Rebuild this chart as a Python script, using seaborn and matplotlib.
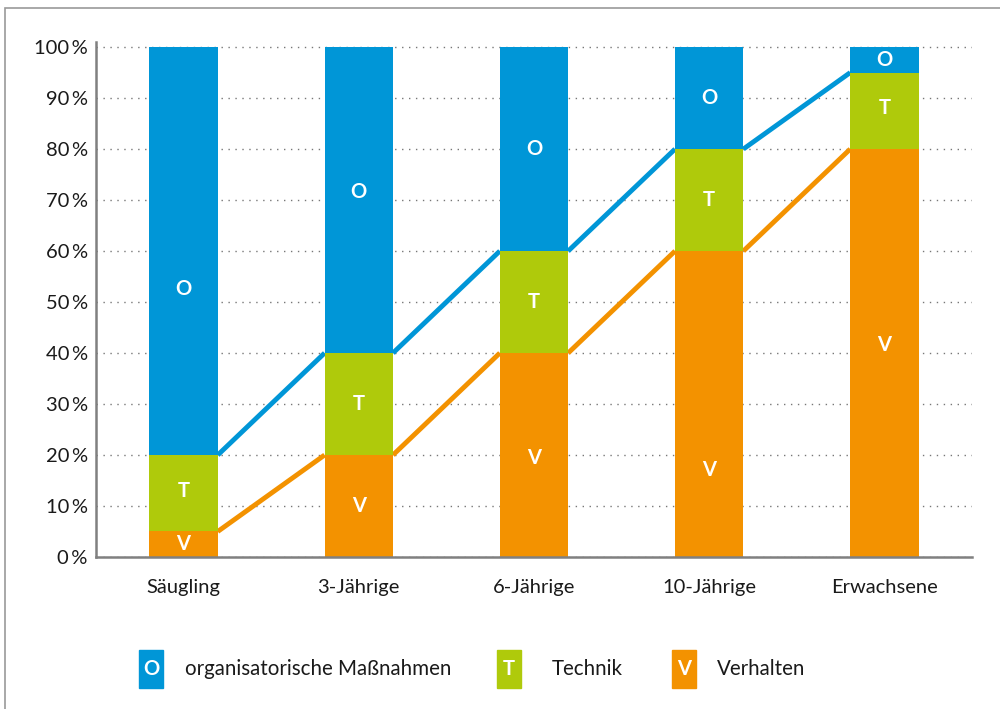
import matplotlib
matplotlib.use("Agg")
import matplotlib.pyplot as plt
import seaborn as sns
import numpy as np
import pandas as pd
from matplotlib.patches import Rectangle

categories = ["Säugling", "3-Jährige", "6-Jährige", "10-Jährige", "Erwachsene"]
verhalten = [5, 20, 40, 60, 80]
technik = [15, 20, 20, 20, 15]
organisation = [80, 60, 40, 20, 5]
y_ticks = [0, 10, 20, 30, 40, 50, 60, 70, 80, 90, 100]
y_tick_labels = [f"{v}\u2009%" for v in y_ticks]
legend_keys = ["O", "T", "V"]
legend_labels = ["organisatorische Maßnahmen", "Technik", "Verhalten"]

# layout: vertical placement of the in-bar letters (as in the original layout)
label_y_V = [2.5, 10, 19.5, 17, 41.5]
label_y_T = [13, 30, 50, 70, 88]
label_y_O = [52.5, 71.5, 80, 90, 97.5]

C_O = "#0096D7"
C_T = "#AFCA0B"
C_V = "#F39200"
TXT = "#1a1a1a"

sns.set_theme(style="white")
plt.rcParams["font.family"] = ["Lato", "DejaVu Sans"]

df = pd.DataFrame({"cat": categories, "V": verhalten, "T": technik, "O": organisation})
df["VT"] = df["V"] + df["T"]
df["VTO"] = df["VT"] + df["O"]

fig = plt.figure(figsize=(10, 7.09), dpi=100)
ax = fig.add_axes([0.096, 0.2144, 0.876, 0.7264])

W = 0.39
for col, c in [("VTO", C_O), ("VT", C_T), ("V", C_V)]:
    sns.barplot(data=df, x="cat", y=col, color=c, width=W, saturation=1, ax=ax,
                zorder=3, linewidth=0, edgecolor="none")

# connecting lines from bar edge to next bar edge
xs = np.arange(len(categories))
for vals, col in [(df["V"].values, C_V), (df["VT"].values, C_O)]:
    for i in range(len(xs) - 1):
        ax.plot([xs[i] + W / 2, xs[i + 1] - W / 2], [vals[i], vals[i + 1]],
                color=col, lw=3.5, solid_capstyle="butt", zorder=2)

# segment labels
for i in range(len(xs)):
    for yy, key in [(label_y_V[i], "V"), (label_y_T[i], "T"), (label_y_O[i], "O")]:
        ax.text(xs[i], yy, key, ha="center", va="center", color="white",
                fontsize=14.5, fontweight="bold", zorder=4)

ax.set_xlim(-0.5, 4.5)
ax.set_ylim(0, 101)
ax.set_yticks(y_ticks)
ax.set_yticklabels(y_tick_labels, fontsize=14.5, color=TXT)
ax.set_xticks(xs)
ax.set_xticklabels(categories, fontsize=14.5, color=TXT)
ax.set_xlabel("")
ax.set_ylabel("")
ax.tick_params(axis="y", length=0, pad=6)
ax.tick_params(axis="x", length=0, pad=16)
ax.yaxis.grid(True, linestyle=(0, (1, 4)), color="#777777", lw=1.0, zorder=0)
ax.set_axisbelow(True)
for s in ["top", "right"]:
    ax.spines[s].set_visible(False)
for s in ["left", "bottom"]:
    ax.spines[s].set_color("#808080")
    ax.spines[s].set_linewidth(1.8)
    ax.spines[s].set_zorder(5)

# legend
leg_x = [0.139, 0.497, 0.672]
txt_off = [0.046, 0.055, 0.045]
for xk, off, key, lab, col in zip(leg_x, txt_off, legend_keys, legend_labels, [C_O, C_T, C_V]):
    fig.patches.append(Rectangle((xk, 1 - 688 / 709), 0.024, 38 / 709,
                                 transform=fig.transFigure, color=col, zorder=3))
    fig.text(xk + 0.012, 1 - 669 / 709, key, ha="center", va="center", color="white",
             fontsize=14.5, fontweight="bold")
    fig.text(xk + off, 1 - 669 / 709, lab, ha="left", va="center", color=TXT, fontsize=14.8)

# frame
fig.patches.append(Rectangle((0.005, -0.1), 1.2, 1.1 - 8 / 709, transform=fig.transFigure,
                             fill=False, edgecolor="#9a9a9a", lw=1.2))

fig.savefig("out.png", dpi=100)
